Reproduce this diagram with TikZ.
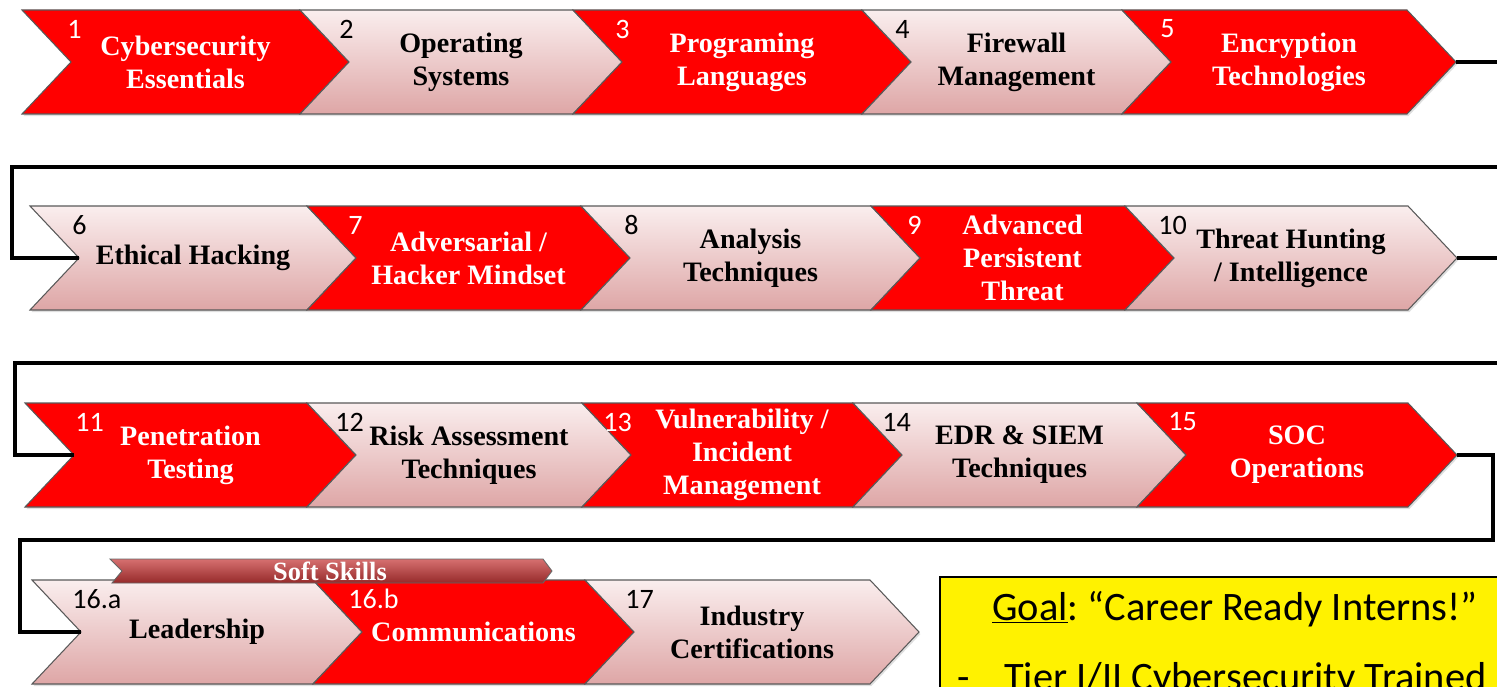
\documentclass[tikz,border=0pt]{standalone}
\usepackage{fontspec}
\setmainfont{Liberation Serif}
\newfontfamily\calfont{Carlito}
\usetikzlibrary{shadows}
\definecolor{pinktop}{RGB}{250,238,238}
\definecolor{pinkbot}{RGB}{222,166,166}
\definecolor{softtop}{RGB}{214,112,112}
\definecolor{softbot}{RGB}{150,42,42}
\tikzset{
  chev/.style={draw=black!65, line width=0.6pt,
    drop shadow={opacity=0.25, shadow xshift=0.8pt, shadow yshift=-1.2pt}},
  redchev/.style={chev, fill=red},
  lightchev/.style={chev, top color=pinktop, bottom color=pinkbot},
  steptxt/.style={align=center, inner sep=0pt, font=\fontsize{16}{18.7}\selectfont\bfseries},
  stepnum/.style={anchor=west, inner sep=0pt, font=\calfont\fontsize{16}{18}\selectfont},
  link/.style={line width=2pt, black},
  softbar/.style={draw=black!60, line width=0.5pt, top color=softtop, bottom color=softbot},
  softtxt/.style={text=white, inner sep=0pt, font=\fontsize{15}{17}\selectfont\bfseries},
  goalbox/.style={draw=black, line width=1.4pt, fill=yellow},
  goaltxt/.style={inner sep=0pt, font=\calfont\fontsize{23}{27}\selectfont\frenchspacing},
}
\begin{document}
\begin{tikzpicture}[x=0.02cm, y=-0.02cm]
  \useasboundingbox (0,0) rectangle (1497,686);
  \clip (0,0) rectangle (1497,686);

  \foreach \id/\xa/\xb/\ym/\sty/\col/\nx/\num/\txt in {
      1/22/300/62/redchev/white/67/1/{Cybersecurity\\Essentials},
      2/300/573/62/lightchev/black/339/2/{Operating\\Systems},
      3/573/862/62/redchev/white/615/3/{Programing\\Languages},
      4/862/1122/62/lightchev/black/895/4/{Firewall\\Management},
      5/1122/1407/62/redchev/white/1160/5/{Encryption\\Technologies},
      6/30/307/258/lightchev/black/72/6/{Ethical Hacking},
      7/307/581/258/redchev/white/348/7/{Adversarial /\\Hacker Mindset},
      8/581/871/258/lightchev/black/624/8/{Analysis\\Techniques},
      9/871/1125/258/redchev/white/907/9/{Advanced\\Persistent\\Threat},
      10/1125/1408/258/lightchev/black/1158/10/{Threat Hunting\\/ Intelligence},
      11/25/307/455/redchev/white/75/11/{Penetration\\Testing},
      12/307/582/455/lightchev/black/335/12/{Risk Assessment\\Techniques},
      13/582/853/455/redchev/white/603/13/{Vulnerability /\\Incident\\Management},
      14/853/1137/455/lightchev/black/882/14/{EDR \& SIEM\\Techniques},
      15/1137/1408/455/redchev/white/1168/15/{SOC\\Operations},
      16a/32/313/632/lightchev/black/72/16.a/{Leadership},
      16b/313/585/632/redchev/white/348/16.b/{Communications},
      17/585/870/632/lightchev/black/625/17/{Industry\\Certifications}} {
    \path[\sty] (\xa,\ym-52) -- (\xb,\ym-52) -- (\xb+49,\ym) -- (\xb,\ym+52)
      -- (\xa,\ym+52) -- (\xa+49,\ym) -- cycle;
    \coordinate (in\id) at (\xa+49,\ym);
    \coordinate (out\id) at (\xb+49,\ym);
    \node[stepnum, text=\col] (n\id) at (\nx,\ym-33) {\num};
    \node[steptxt, text=\col] (t\id) at ({(\xa+\xb+49)/2},\ym) {\txt};
  }

  \draw[link] (out5) -| (1510,167) -| (12,258) -- (in6);
  \draw[link] (out10) -| (1510,363) -| (15,455) -- (in11);
  \draw[link] (out15) -| (1493,540) -| (20,632) -- (in16a);

  \path[softbar] (110,559) -- (543,559) -- (552,571) -- (543,583)
    -- (112,583) -- (122,571) -- cycle;
  \node[softtxt] (soft) at (330,571) {Soft Skills};

  \draw[goalbox] (940,577) rectangle (1530,720);
  \node[goaltxt, anchor=base west] (goal) at (992,620)
    {\underline{Goal}: “Career Ready Interns!”};
  \node[goaltxt, anchor=base west] (tier) at (957,690)
    {-\hspace{0.85em}Tier I/II Cybersecurity Trained};
\end{tikzpicture}
\end{document}
